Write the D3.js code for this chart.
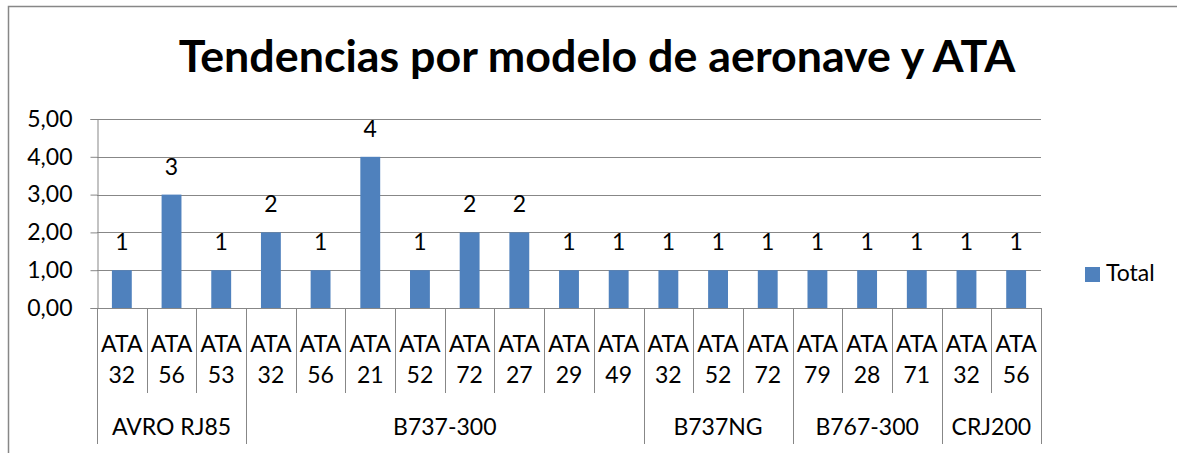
<!DOCTYPE html>
<html>
<head>
<meta charset="utf-8">
<script src="https://cdn.jsdelivr.net/npm/d3@7"></script>
<style>
  html, body { margin: 0; padding: 0; background: #fff; }
  svg { display: block; font-family: Lato, "Liberation Sans", sans-serif; }
</style>
</head>
<body>
<svg id="chart" width="1177" height="453"></svg>
<script>
const title = "Tendencias por modelo de aeronave y ATA";
const models = ["AVRO RJ85", "AVRO RJ85", "AVRO RJ85",
  "B737-300", "B737-300", "B737-300", "B737-300", "B737-300", "B737-300", "B737-300", "B737-300",
  "B737NG", "B737NG", "B737NG",
  "B767-300", "B767-300", "B767-300",
  "CRJ200", "CRJ200"];
const atas = ["32", "56", "53",
  "32", "56", "21", "52", "72", "27", "29", "49",
  "32", "52", "72",
  "79", "28", "71",
  "32", "56"];
const values = [1, 3, 1, 2, 1, 4, 1, 2, 2, 1, 1, 1, 1, 1, 1, 1, 1, 1, 1];
const yTicks = [0, 1, 2, 3, 4, 5];
const seriesName = "Total";

const svg = d3.select("#chart");
const W = 1177, H = 453;
const plot = { left: 97, right: 1041, top: 119, bottom: 308 };
const barColor = "#4F81BD";
const gridColor = "#878787";
const fontSize = 23;

const locale = d3.formatLocale({ decimal: ",", thousands: ".", grouping: [3], currency: ["", "€"] });
const fmt = locale.format(".2f");

// chart border (left + top visible)
svg.append("path")
  .attr("d", `M8.5,${H} L8.5,6.5 L${W},6.5`)
  .attr("fill", "none").attr("stroke", "#878787").attr("stroke-width", 1.5);

// Title (fit to reference width)
const t = svg.append("text")
  .attr("x", 597).attr("y", 72)
  .attr("text-anchor", "middle")
  .attr("font-weight", "bold")
  .attr("font-size", 40)
  .attr("fill", "#000")
  .text(title);
const tl = t.node().getComputedTextLength();
t.attr("font-size", 40 * 837 / tl);

const idx = values.map((d, i) => i);
const x = d3.scaleBand().domain(idx).range([plot.left, plot.right]).padding(0);
const y = d3.scaleLinear().domain([0, 5]).range([plot.bottom, plot.top]);

// gridlines
svg.append("g").selectAll("line").data(yTicks).join("line")
  .attr("x1", plot.left).attr("x2", plot.right)
  .attr("y1", d => Math.round(y(d)) + 0.5).attr("y2", d => Math.round(y(d)) + 0.5)
  .attr("stroke", gridColor).attr("stroke-width", 1);

// y axis
const yAxis = svg.append("g")
  .attr("transform", `translate(${plot.left + 0.5},0)`)
  .call(d3.axisLeft(y).tickValues(yTicks).tickFormat(fmt).tickSize(7).tickPadding(18));
yAxis.select(".domain").attr("stroke", gridColor);
yAxis.selectAll(".tick line").attr("stroke", gridColor);
yAxis.selectAll(".tick text")
  .attr("font-size", fontSize).attr("font-family", "Lato, 'Liberation Sans', sans-serif")
  .attr("fill", "#000");

// bars
const bw = x.bandwidth() * 0.4;
svg.append("g").selectAll("rect").data(idx).join("rect")
  .attr("x", i => x(i) + (x.bandwidth() - bw) / 2)
  .attr("width", bw)
  .attr("y", i => y(values[i]))
  .attr("height", i => y(0) - y(values[i]))
  .attr("fill", barColor);

// data labels
svg.append("g").selectAll("text").data(idx).join("text")
  .attr("x", i => x(i) + x.bandwidth() / 2)
  .attr("y", i => y(values[i]) - 20)
  .attr("text-anchor", "middle")
  .attr("font-size", fontSize).attr("fill", "#000")
  .text(i => values[i]);

// category separators
const groupStart = idx.filter(i => i === 0 || models[i] !== models[i - 1]);
const boundaries = idx.concat([values.length]);
svg.append("g").selectAll("line").data(boundaries).join("line")
  .attr("x1", i => Math.round(i < values.length ? x(i) : plot.right) + 0.5)
  .attr("x2", i => Math.round(i < values.length ? x(i) : plot.right) + 0.5)
  .attr("y1", plot.bottom)
  .attr("y2", i => (i === values.length || groupStart.includes(i)) ? 444 : 393)
  .attr("stroke", gridColor).attr("stroke-width", 1);

// ATA labels
const lab = svg.append("g").selectAll("g").data(idx).join("g");
lab.append("text")
  .attr("x", i => x(i) + x.bandwidth() / 2).attr("y", 352)
  .attr("text-anchor", "middle").attr("font-size", fontSize).attr("fill", "#000")
  .text("ATA");
lab.append("text")
  .attr("x", i => x(i) + x.bandwidth() / 2).attr("y", 383)
  .attr("text-anchor", "middle").attr("font-size", fontSize).attr("fill", "#000")
  .text(i => atas[i]);

// group labels
const groups = Array.from(d3.group(idx, i => models[i]), ([k, v]) => ({ k, first: v[0], last: v[v.length - 1] }));
svg.append("g").selectAll("text").data(groups).join("text")
  .attr("x", g => (x(g.first) + x(g.last) + x.bandwidth()) / 2)
  .attr("y", 435)
  .attr("text-anchor", "middle").attr("font-size", fontSize).attr("fill", "#000")
  .text(g => g.k);

// legend
const lg = svg.append("g");
lg.append("rect").attr("x", 1085).attr("y", 267).attr("width", 15).attr("height", 15).attr("fill", barColor);
lg.append("text").attr("x", 1106).attr("y", 281).attr("font-size", fontSize).attr("fill", "#000").text(seriesName);
</script>
</body>
</html>
